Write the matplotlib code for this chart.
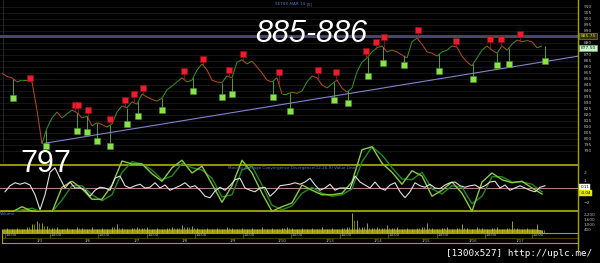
import numpy as np
import matplotlib
matplotlib.use("Agg")
import matplotlib.pyplot as plt
from matplotlib.collections import LineCollection
from matplotlib.lines import Line2D

# price bars (one value per bar)
price = [855, 852, 851, 847.5, 849, 849, 847.5, 824, 796, 809,
         817.5, 822.5, 817.5, 821, 824, 822, 817.5, 819, 811, 813.5,
         812, 810, 812.5, 822.5, 827.5, 826, 831, 829, 837.5, 835,
         833, 831.5, 834, 841, 844, 847.5, 851, 847.5, 849, 857.5,
         862.5, 857.5, 849, 847.5, 847, 852.5, 851, 864, 866, 862.5,
         865, 860, 855, 849, 847.5, 851, 837.5, 837.5, 839, 838,
         840, 847.5, 852.5, 851, 845, 842.5, 846, 849, 842.5, 839,
         842.5, 856, 864, 867.5, 872.5, 876, 877.5, 872.5, 874, 872.5,
         870, 867.5, 881, 884, 879, 872.5, 871.5, 869, 872.5, 874,
         877.5, 876.5, 869, 864, 861, 867.5, 874, 877.5, 874, 871.5,
         877.5, 874, 879, 882.5, 881, 882, 881, 876, 877.5]

sell_x = [5.6, 14.6, 15.2, 17.2, 21.6, 24.6, 26.4, 28.2, 36.4, 40.2, 45.4, 48.2,
          55.4, 63.2, 66.8, 72.8, 74.8, 76.4, 83.2, 90.8, 97.6, 99.8, 103.6]
sell_y = [851, 828.5, 828.5, 824, 816.5, 832.5, 837.5, 842.5, 856.5, 866.5, 857.5, 871,
          856, 857.5, 856, 873.5, 881, 885, 891, 881.5, 883.5, 883.5, 887.5]

buy_x = [2.2, 8.8, 15, 17, 19, 21.6, 25, 27.2, 32, 38.2, 44, 46,
         54.2, 57.6, 66.4, 69.2, 73.2, 76.2, 80.4, 87.4, 94.2, 99, 101.4, 108.6]
buy_y = [834, 794, 806.5, 806, 798.5, 794, 812.5, 819, 824, 840, 835, 837.5,
         835, 823.5, 832.5, 830, 852.5, 863.5, 861.5, 856.5, 850, 861.5, 862.5, 865]

resistance = 885.5
trend_x = [8.6, 115.2]
trend_y = [796.5, 869.0]

# MACD study
macd_white = [-0.5, 0.3, 0.7, 0.5, 0.7, 0.4, -0.9, -2.9, -0.9, 2.1,
              2.7, 1.3, 0.0, 0.8, 0.0, 0.0, -0.3, -1.1, -0.3, 0.1,
              0.0, -0.3, 1.3, 1.6, 0.3, 0.0, 0.3, 0.5, 0.0, 0.1,
              0.7, 0.0, 0.4, -0.3, 0.0, 0.3, 0.7, 0.1, 0.3, -0.3,
              -1.1, -1.3, -0.4, 0.1, -0.3, 0.3, 1.1, 1.3, 0.0, -0.3,
              -0.5, 0.0, 0.1, -1.1, -0.5, 0.3, 0.4, 0.5, 0.7, 0.5,
              0.8, 1.3, 0.4, -0.3, 0.0, 0.5, -0.3, 0.0, 0.0, -0.1,
              1.6, 0.8, 0.4, 0.0, 0.8, 0.0, -0.3, 0.4, 0.7, -0.5,
              -1.3, -0.5, 0.7, 0.3, 0.1, 0.5, 0.0, -0.1, 0.4, 0.7,
              0.8, 0.3, 0.1, 0.3, 0.4, 0.0, 0.3, 0.8, 0.9, 0.0,
              0.4, -0.3, 0.0, 0.3, 0.0, -0.3, -0.5, 0.1, 0.3]
macd_fast = [-3.2, -3.2, -2.5, -3.1, -3.2, -3.2, 0.1, 0.9, -0.1, -1.5,
             -1.5, 0.4, 3.6, 3.2, 3.2, 1.9, 0.9, 2.7, 3.7, 2.0,
             2.9, 0.5, -1.9, 0.3, 3.7, 2.0, -0.7, -3.1, -2.5, -2.0,
             0.4, -0.3, -0.9, -0.9, -0.7, 0.8, 5.1, 5.5, 3.3, 2.1,
             0.5, 2.3, 1.6, -1.1, -0.3, 0.8, -0.7, -3.1, 0.8, 2.0,
             1.1, 0.7, 0.9, 0.0, -0.8]
macd_slow = [-3.2, -3.2, -2.9, -2.7, -3.2, -3.2, -1.6, 0.3, 0.3, -0.9,
             -1.7, -0.9, 2.1, 3.5, 3.2, 2.4, 1.1, 1.6, 3.3, 2.7,
             2.4, 1.3, -1.2, -0.9, 2.4, 2.9, 0.4, -2.3, -2.9, -2.4,
             -0.7, 0.1, -0.7, -1.1, -0.9, -0.1, 3.5, 5.5, 4.4, 2.7,
             1.2, 1.1, 2.1, -0.1, -0.8, 0.3, 0.1, -2.1, -1.1, 1.5,
             1.5, 0.8, 0.8, 0.5, -0.5]

volume = [480, 600, 480, 600, 480, 720, 1080, 1440, 1200, 840,
          600, 720, 480, 600, 480, 720, 600, 480, 720, 480,
          600, 480, 720, 1080, 600, 480, 600, 720, 600, 720,
          480, 600, 480, 600, 720, 600, 960, 720, 840, 600,
          480, 600, 480, 600, 480, 720, 600, 480, 600, 480,
          600, 480, 720, 480, 600, 480, 600, 720, 600, 480,
          600, 480, 600, 480, 720, 480, 600, 480, 600, 720,
          2400, 1560, 720, 1200, 600, 720, 600, 960, 600, 720,
          480, 600, 480, 600, 720, 1200, 600, 480, 600, 720,
          480, 600, 1080, 600, 480, 720, 600, 480, 600, 720,
          480, 600, 1440, 600, 480, 600, 480, 1080, 360]

session_pos = [0.6, 9.6, 19.2, 29, 38.6, 48.2, 57.8, 67.6, 77.2, 87, 96.6, 106]
date_pos = [7.6, 17.2, 27, 36.6, 46.2, 56, 65.6, 75.2, 84.8, 94.2, 103.6]
date_labels = ["1/3", "1/6", "1/7", "1/8", "1/9", "1/10", "1/13", "1/14", "1/15", "1/16", "1/17"]

W, H = 600, 263
XL = (-0.4, 115.2)
AX_YEL = "#a3a300"


def px_rect(x0, y0, x1, y1):
    return [x0 / W, 1 - y1 / H, (x1 - x0) / W, (y1 - y0) / H]


def clean(ax):
    for s in ax.spines.values():
        s.set_visible(False)
    ax.set_xticks([])
    ax.set_xlim(*XL)


fig = plt.figure(figsize=(6, 2.63), dpi=100, facecolor="black")

# --- price panel ---
ax = fig.add_axes(px_rect(0, 0, 578, 163))
ax.set_facecolor("black")
clean(ax)
ax.set_ylim(780, 915.8)
ax.yaxis.tick_right()
ticks = np.arange(790, 911, 5)
ax.set_yticks(ticks)
# the two value boxes sit where these labels would be
ax.set_yticklabels(["" if t in (875, 885) else str(t) for t in ticks])
ax.tick_params(axis="y", labelsize=3.2, colors="#b8b8b8", length=0, pad=4)
ax.grid(axis="y", color="#1a1a1a", lw=0.6)
ax.axvline(0.2, color="#2a2a2a", lw=0.6)

ax.axhline(resistance, color="#4a4a6e", lw=2.0)
ax.plot(trend_x, trend_y, color="#8282cc", lw=0.8)

xs = np.arange(len(price))
pts = np.column_stack([xs, price])
segs = np.stack([pts[:-1], pts[1:]], axis=1)
cols = ["#35901a" if b >= a else "#b04a1a" for a, b in zip(price[:-1], price[1:])]
ax.add_collection(LineCollection(segs, colors=cols, lw=0.75))

ax.vlines(buy_x, buy_y, np.interp(buy_x, xs, price), color="#66b836", lw=0.6)
ax.vlines(sell_x, np.interp(sell_x, xs, price), sell_y, color="#b01a1a", lw=0.5)
ax.scatter(buy_x, buy_y, marker="s", s=22, c="#8be24c", edgecolors="#4c8e22", linewidths=0.4, zorder=5)
ax.scatter(sell_x, sell_y, marker="s", s=22, c="#ee1c2e", edgecolors="#901010", linewidths=0.4, zorder=5)

ax.text(1.004, resistance, "885.75", transform=ax.get_yaxis_transform(), fontsize=3.2,
        color="#d8d840", va="center", bbox=dict(boxstyle="square,pad=0.2", fc="#30300a", ec=AX_YEL, lw=0.4))
ax.text(1.004, price[-1] - 1.5, "877.50", transform=ax.get_yaxis_transform(), fontsize=3.2,
        color="#103010", va="center", bbox=dict(boxstyle="square,pad=0.25", fc="#c8f2c8", ec="#80c080", lw=0.4))

# --- MACD panel ---
mx = fig.add_axes(px_rect(0, 140, 578, 212))
mx.set_facecolor("none")
clean(mx)
mx.set_ylim(-3.2, 6.4)
mx.axhline(3.07, color=AX_YEL, lw=1.3)
mx.axhline(-3.07, color=AX_YEL, lw=1.3)
mx.axhline(0, color="#b08888", lw=0.7)
mx.plot(np.arange(len(macd_slow)) * 2, macd_slow, color="#1f8a1f", lw=1.0)
mx.plot(np.arange(len(macd_fast)) * 2, macd_fast, color="#8ccc3a", lw=1.0)
mx.plot(np.arange(len(macd_white)) + 0.6, macd_white, color="#e0e0e0", lw=0.8)
mx.yaxis.tick_right()
mx.set_yticks([2, 1, -2])
mx.tick_params(axis="y", labelsize=3.2, colors="#b8b8b8", length=0, pad=4)
mx.text(45.2, 2.7, "Moving Average Convergence Divergence(12,26,9) Value Lines",
        fontsize=3, color="#4f80c8", va="center")
mx.text(1.004, 0.1, "0.11", transform=mx.get_yaxis_transform(), fontsize=3, color="black",
        va="center", bbox=dict(boxstyle="square,pad=0.2", fc="white", ec="white", lw=0.3))
mx.text(1.004, -0.7, "-0.04", transform=mx.get_yaxis_transform(), fontsize=3, color="black",
        va="center", bbox=dict(boxstyle="square,pad=0.2", fc="#e8e800", ec="#e8e800", lw=0.3))

# --- volume panel ---
vx = fig.add_axes(px_rect(0, 213, 578, 233))
vx.set_facecolor("none")
clean(vx)
vx.set_ylim(0, 2400)
vxs = np.arange(len(volume))
vx.fill_between(vxs, np.minimum(volume, 480), color="#9a9a18", lw=0)
vx.vlines(vxs, 0, volume, color="#c8c830", lw=0.55)
vx.vlines(vxs + 0.5, 0, np.minimum(volume[:-1] + [volume[-1]], volume[1:] + [volume[-1]]),
          color="#a8a820", lw=0.5)
vx.yaxis.tick_right()
vx.set_yticks([400, 1000, 1600, 2200])
vx.set_yticklabels(["400", "1,000", "1,600", "2,200"])
vx.tick_params(axis="y", labelsize=3, colors="#b8b8b8", length=0, pad=4)
vx.text(0.0, 2300, "Volume", fontsize=3, color="#4f80c8", va="center",
        transform=vx.get_yaxis_transform())

# --- date strip ---
dx = fig.add_axes(px_rect(2, 233, 578, 243))
dx.set_facecolor("black")
dx.set_xlim(0, 115.2)
dx.set_ylim(0, 2)
dx.set_xticks([])
dx.set_yticks([])
for s in dx.spines.values():
    s.set_color(AX_YEL)
    s.set_linewidth(0.8)
dx.axhline(1, color="#5a5a00", lw=0.5)
dx.vlines(session_pos, 1, 2, color="#707000", lw=0.5)
for p in session_pos:
    dx.text(p + 0.2, 1.5, "14:00", fontsize=2.8, color="#b0b0b0", va="center")
for p, lab in zip(date_pos, date_labels):
    dx.text(p, 0.5, lab, fontsize=2.8, color="#b0b0b0", va="center", ha="center")

# right-hand axis line
fig.add_artist(Line2D([578 / W, 578 / W], [1, 1 - 250 / H], color=AX_YEL, lw=1.0))

# annotations
fig.text(275 / W, 1 - 4 / H, "SETSX MAR 14", fontsize=3, color="#4f78c8", va="center")
fig.text(307 / W, 1 - 4 / H, "[5]", fontsize=3, color="#4f78c8", va="center")
fig.text(255 / W, 1 - 42 / H, "885-886", fontsize=22, color="white", style="italic",
         family="Liberation Sans", va="baseline")
fig.text(20 / W, 1 - 172 / H, "797", fontsize=22, color="white",
         family="Liberation Sans", va="baseline")
fig.text(446 / W, 1 - 254 / H, "[1300x527] http://uplc.me/", fontsize=6.7, color="white",
         family="DejaVu Sans Mono", va="center")

fig.savefig("out.png", dpi=100, facecolor="black")
plt.close(fig)
